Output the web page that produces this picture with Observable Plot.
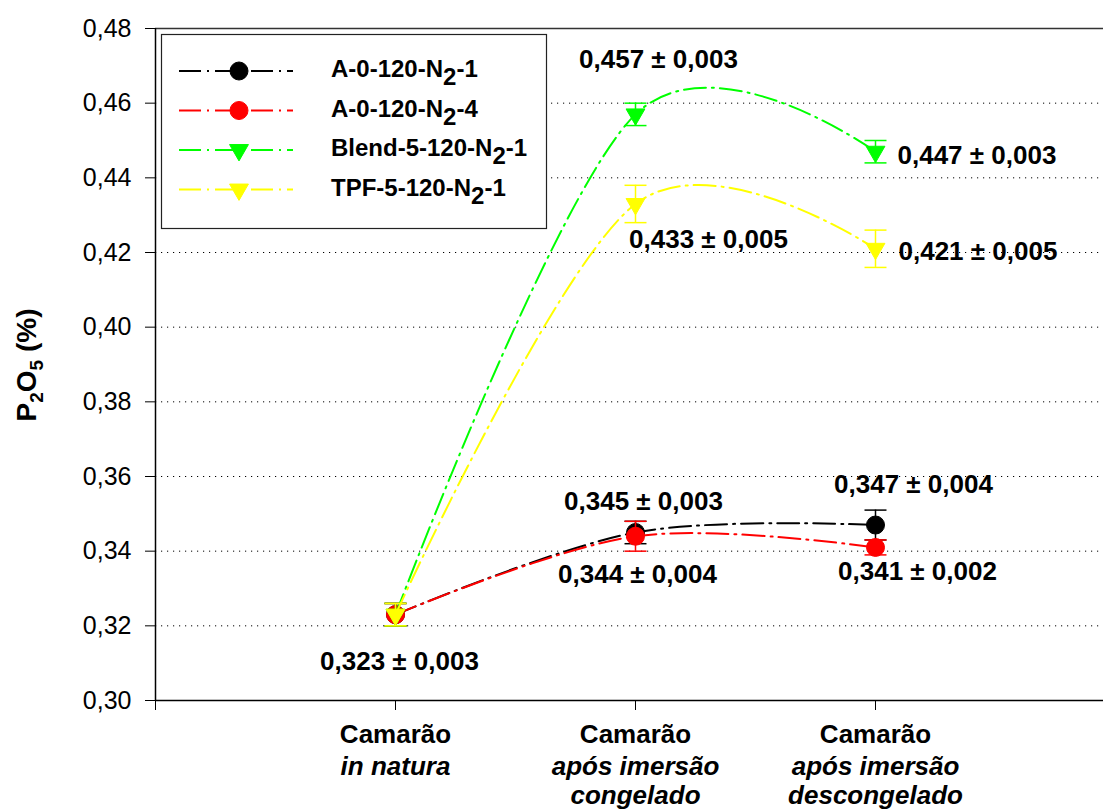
<!DOCTYPE html>
<html>
<head>
<meta charset="utf-8">
<script src="https://cdn.jsdelivr.net/npm/d3@7"></script>
<script src="https://cdn.jsdelivr.net/npm/@observablehq/plot@0.6"></script>
<style>
  body { margin: 0; background: #fff; }
  #chart { width: 1103px; height: 811px; }
</style>
</head>
<body>
<div id="chart"></div>
<script>
// Sample stages along the x axis
const categoryTitle = ["Camarão", "Camarão", "Camarão"];
const categoryDetail = ["in natura", "após imersão\ncongelado", "após imersão\ndescongelado"];

// Series (legend order)
const seriesNames = ["A-0-120-N2-1", "A-0-120-N2-4", "Blend-5-120-N2-1", "TPF-5-120-N2-1"];
const seriesColors = ["#000000", "#ff0000", "#00ff00", "#ffff00"];
const seriesSymbols = ["circle", "circle", "triangleDown", "triangleDown"];

// P2O5 (%) mean and standard deviation per stage
const meanValues = [
  [0.323, 0.345, 0.347],
  [0.323, 0.344, 0.341],
  [0.323, 0.457, 0.447],
  [0.323, 0.433, 0.421]
];
const errValues = [
  [0.003, 0.003, 0.004],
  [0.003, 0.004, 0.002],
  [0.003, 0.003, 0.003],
  [0.003, 0.005, 0.005]
];

// Y axis ticks
const yTicks = [0.30, 0.32, 0.34, 0.36, 0.38, 0.40, 0.42, 0.44, 0.46, 0.48];

const FONT = "'Liberation Sans', Arial, Helvetica, sans-serif";
const DASH = "22,6,2,6";
const comma = v => v.toFixed(3).replace(".", ",");

// custom symbols: a downward triangle and a flat error-bar cap
const triangleDown = {
  draw(ctx, size) {
    const y = Math.sqrt(size / (3 * Math.sqrt(3)));
    const x = Math.sqrt(3) * y;
    ctx.moveTo(0, 2 * y);
    ctx.lineTo(x, -y);
    ctx.lineTo(-x, -y);
    ctx.closePath();
  }
};
const capSymbol = {
  draw(ctx, size) {
    const w = Math.sqrt(size) / 2;
    ctx.moveTo(-w, 0);
    ctx.lineTo(w, 0);
  }
};
const symbolOf = name => name === "triangleDown" ? triangleDown : d3.symbolCircle;
const markerR = name => name === "triangleDown" ? 7 : 9;

// tidy rows
const rows = seriesNames.flatMap((name, s) =>
  meanValues[s].map((v, c) => ({series: name, s, c, x: c + 1, value: v, err: errValues[s][c]}))
);
const rowOf = (s, c) => rows.find(r => r.s === s && r.c === c);

// where each value label sits relative to its point
const labelLayout = [
  {s: 0, c: 0, dx: 4, dy: 47, anchor: "middle"},
  {s: 0, c: 1, dx: 8, dy: -31, anchor: "middle"},
  {s: 1, c: 1, dx: 2, dy: 38, anchor: "middle"},
  {s: 0, c: 2, dx: 38, dy: -40, anchor: "middle"},
  {s: 1, c: 2, dx: 42, dy: 24, anchor: "middle"},
  {s: 2, c: 1, dx: 23, dy: -55, anchor: "middle"},
  {s: 3, c: 1, dx: 73, dy: 36, anchor: "middle"},
  {s: 2, c: 2, dx: 22, dy: 4, anchor: "start"},
  {s: 3, c: 2, dx: 23, dy: 3, anchor: "start"}
];

const seriesMarks = seriesNames.flatMap((name, s) => {
  const d = rows.filter(r => r.s === s);
  const color = seriesColors[s];
  return [
    Plot.line(d, {x: "x", y: "value", curve: "cardinal", stroke: color, strokeWidth: 2, strokeDasharray: DASH}),
    Plot.ruleX(d, {x: "x", y1: r => r.value - r.err, y2: r => r.value + r.err, stroke: color, strokeWidth: 1.5}),
    Plot.dot(d, {x: "x", y: r => r.value - r.err, symbol: capSymbol, r: 12.4, fill: "none", stroke: color, strokeWidth: 1.5}),
    Plot.dot(d, {x: "x", y: r => r.value + r.err, symbol: capSymbol, r: 12.4, fill: "none", stroke: color, strokeWidth: 1.5}),
    Plot.dot(d, {x: "x", y: "value", symbol: symbolOf(seriesSymbols[s]), r: markerR(seriesSymbols[s]), fill: color, stroke: color, strokeWidth: 1})
  ];
});

const labelMarks = labelLayout.map(L =>
  Plot.text([rowOf(L.s, L.c)], {
    x: "x", y: "value",
    text: r => `${comma(r.value)} ± ${comma(r.err)}`,
    dx: L.dx, dy: L.dy, textAnchor: L.anchor, lineAnchor: "middle",
    fontSize: 26, fontWeight: "bold", fill: "#000"
  })
);

const catRows = categoryTitle.map((t, i) => ({x: i + 1, title: t, detail: categoryDetail[i]}));

const chart = Plot.plot({
  width: 1103,
  height: 811,
  marginLeft: 155,
  marginRight: 0,
  marginTop: 28,
  marginBottom: 111,
  style: {fontFamily: FONT, fontSize: "25px", color: "#000", background: "#fff", overflow: "visible"},
  x: {type: "linear", domain: [0, 3.95]},
  y: {domain: [0.30, 0.48]},
  marks: [
    // dotted horizontal grid
    Plot.ruleY(yTicks.filter(t => t > 0.30 && t < 0.48), {stroke: "#000", strokeWidth: 1, strokeDasharray: "1.2,4.8"}),
    // frame lines
    Plot.ruleY([0.48], {stroke: "#333", strokeWidth: 1.5}),
    Plot.ruleY([0.30], {stroke: "#000", strokeWidth: 1.5}),
    Plot.ruleX([0], {y1: 0.30, y2: 0.48, stroke: "#000", strokeWidth: 1.5}),
    Plot.axisY({ticks: yTicks, tickFormat: t => t.toFixed(2).replace(".", ","), tickSize: 10, tickPadding: 14, label: null, fontSize: 25}),
    Plot.axisX({ticks: [0, 1, 2, 3], tickSize: 10, tickFormat: () => "", label: null}),
    ...seriesMarks,
    ...labelMarks,
    // category labels under the axis
    Plot.text(catRows, {x: "x", y: () => 0.30, text: "title", dy: 34, lineAnchor: "middle", fontSize: 26, fontWeight: "bold", fill: "#000", clip: false}),
    Plot.text(catRows, {x: "x", y: () => 0.30, text: "detail", dy: 54, lineAnchor: "top", lineHeight: 1.12, fontSize: 26, fontWeight: "bold", fontStyle: "italic", fill: "#000", clip: false})
  ]
});

document.getElementById("chart").appendChild(chart);

const svg = d3.select(chart);

// y axis title with subscripts
const yt = svg.append("text")
  .attr("transform", "translate(36,365) rotate(-90)")
  .attr("text-anchor", "middle")
  .attr("font-family", FONT)
  .attr("font-weight", "bold")
  .attr("font-size", 28)
  .attr("fill", "#000");
yt.append("tspan").text("P");
yt.append("tspan").attr("font-size", 19).attr("dy", 7).text("2");
yt.append("tspan").attr("dy", -7).text("O");
yt.append("tspan").attr("font-size", 19).attr("dy", 7).text("5");
yt.append("tspan").attr("dy", -7).text(" (%)");

// legend box
const lg = svg.append("g");
lg.append("rect")
  .attr("x", 161.5).attr("y", 34.5).attr("width", 385).attr("height", 194)
  .attr("fill", "#fff").attr("stroke", "#222").attr("stroke-width", 1.2);
seriesNames.forEach((name, s) => {
  const cy = 71 + s * 39.5;
  const color = seriesColors[s];
  lg.append("line")
    .attr("x1", 179).attr("x2", 293).attr("y1", cy).attr("y2", cy)
    .attr("stroke", color).attr("stroke-width", 2).attr("stroke-dasharray", DASH);
  const r = markerR(seriesSymbols[s]);
  lg.append("path")
    .attr("transform", `translate(239,${cy})`)
    .attr("d", d3.symbol(symbolOf(seriesSymbols[s]), Math.PI * r * r)())
    .attr("fill", color).attr("stroke", color);
  const t = lg.append("text")
    .attr("x", 331).attr("y", cy + 6)
    .attr("text-anchor", "start")
    .attr("font-family", FONT).attr("font-weight", "bold").attr("font-size", 24).attr("fill", "#000");
  const m = name.match(/^(.*N)2(.*)$/);
  t.append("tspan").text(m[1]);
  t.append("tspan").attr("dy", 8).text("2");
  t.append("tspan").attr("dy", -8).text(m[2]);
});
</script>
</body>
</html>
